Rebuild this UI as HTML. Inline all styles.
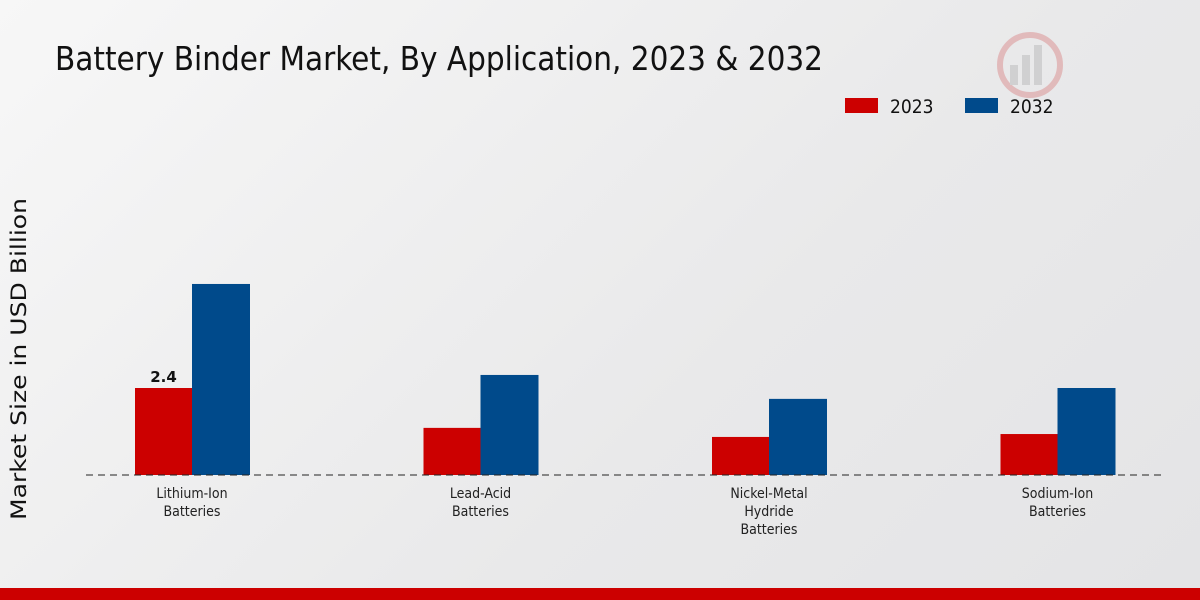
<!DOCTYPE html>
<html><head><meta charset="utf-8"><style>
html,body{margin:0;padding:0;}
body{width:1200px;height:600px;overflow:hidden;background:linear-gradient(135deg,#f7f7f7 0%,#e9e9ea 60%,#e4e4e6 100%);font-family:"Liberation Sans","DejaVu Sans",sans-serif;position:relative;}
</style></head><body>
<svg width="1200" height="600" style="position:absolute;left:0;top:0">
<text x="55" y="70" font-family="DejaVu Sans Condensed, DejaVu Sans, sans-serif" font-size="33" fill="#111" textLength="768" lengthAdjust="spacingAndGlyphs">Battery Binder Market, By Application, 2023 &amp; 2032</text>
<g>
<rect x="845" y="98" width="33" height="15" fill="#cc0000"/>
<text x="890" y="113" font-family="DejaVu Sans Condensed, sans-serif" font-size="19" fill="#111">2023</text>
<rect x="965" y="98" width="33" height="15" fill="#004a8b"/>
<text x="1010" y="113" font-family="DejaVu Sans Condensed, sans-serif" font-size="19" fill="#111">2032</text>
</g>
<text transform="translate(26,359) rotate(-90)" text-anchor="middle" font-family="DejaVu Sans, sans-serif" font-size="21" fill="#111" textLength="322" lengthAdjust="spacingAndGlyphs">Market Size in USD Billion</text>
<g id="plot"></g>
<line x1="86" y1="475" x2="1165" y2="475" stroke="#222" stroke-dasharray="7,5" stroke-width="1"/>
<rect x="0" y="588" width="1200" height="12" fill="#cc0000"/>
<g opacity="0.25">
<circle cx="1030" cy="65" r="30" fill="none" stroke="#c33" stroke-width="6"/>
<rect x="1010" y="65" width="8" height="20" fill="#888"/><rect x="1022" y="55" width="8" height="30" fill="#888"/><rect x="1034" y="45" width="8" height="40" fill="#888"/>
</g>
</svg>
<script>
const categories=[["Lithium-Ion","Batteries"],["Lead-Acid","Batteries"],["Nickel-Metal","Hydride","Batteries"],["Sodium-Ion","Batteries"]];
const values2023=[2.4,1.3,1.05,1.13];
const values2032=[5.27,2.76,2.1,2.4];
const labels2023=["2.4","","",""];
const ns="http://www.w3.org/2000/svg";
const g=document.getElementById("plot");
const baseY=475, pxPerUnit=36.25, x0=192, step=288.5, bw=57;
function yScale(v){return baseY-v*pxPerUnit;}
function xCenter(i){return x0+i*step;}
function mk(t,a){const e=document.createElementNS(ns,t);for(const k in a)e.setAttribute(k,a[k]);g.appendChild(e);return e;}
categories.forEach((c,i)=>{
  const cx=xCenter(i);
  const r1=mk("rect",{x:cx-bw,y:yScale(values2023[i]),width:bw,height:baseY-yScale(values2023[i]),fill:"#cc0000"});
  
  
  const r2=mk("rect",{x:cx,y:yScale(values2032[i]),width:bw+1,height:baseY-yScale(values2032[i]),fill:"#004a8b"});
  
  
  if(labels2023[i]){
    const t=mk("text",{x:cx-bw/2,y:yScale(values2023[i])-6,"text-anchor":"middle","font-size":"15","font-weight":"bold",fill:"#111","font-family":"DejaVu Sans, sans-serif"});
    t.textContent=labels2023[i];
    
    
  }
  c.forEach((line,j)=>{
    const t=mk("text",{x:cx,y:498+j*18,"text-anchor":"middle","font-size":"14",fill:"#222","font-family":"DejaVu Sans Condensed, DejaVu Sans, sans-serif"});
    t.textContent=line;
    
    
  });
});
</script>
</body></html>
